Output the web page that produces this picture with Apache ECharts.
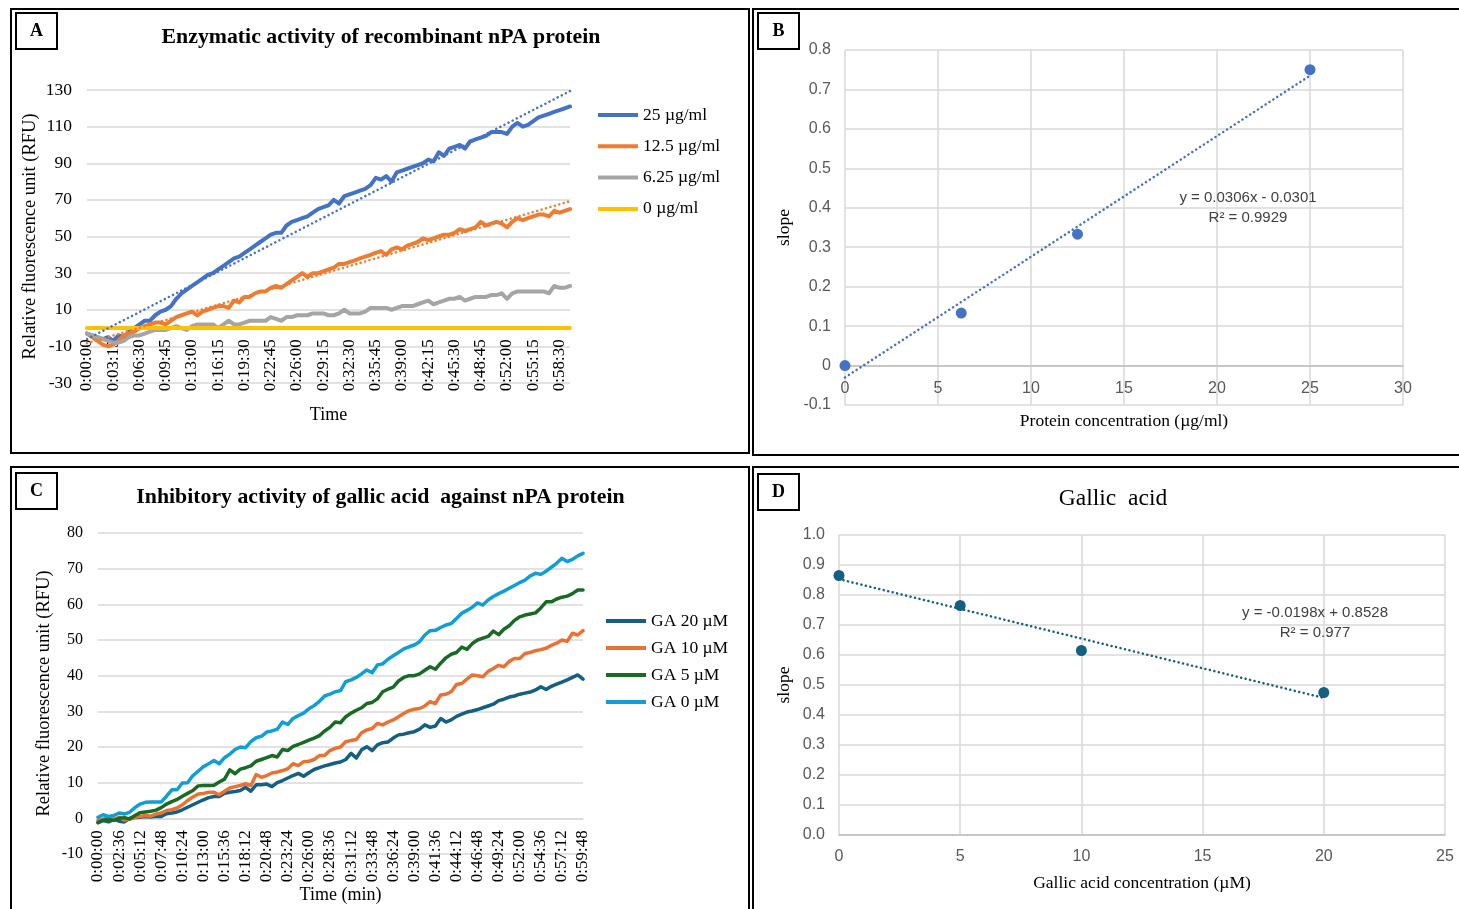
<!DOCTYPE html>
<html>
<head>
<meta charset="utf-8">
<script src="https://cdn.jsdelivr.net/npm/echarts@6/dist/echarts.min.js"></script>
<style>
  html, body { margin: 0; padding: 0; background: #fff; }
  #chart { width: 1459px; height: 909px; }
</style>
</head>
<body>
<div id="chart"></div>
<script>
// Plate-reader time points (one reading every 39 s)
const timeLabels = [
  '0:00:00','0:00:39','0:01:18','0:01:57','0:02:36','0:03:15','0:03:54','0:04:33','0:05:12','0:05:51',
  '0:06:30','0:07:09','0:07:48','0:08:27','0:09:06','0:09:45','0:10:24','0:11:03','0:11:42','0:12:21',
  '0:13:00','0:13:39','0:14:18','0:14:57','0:15:36','0:16:15','0:16:54','0:17:33','0:18:12','0:18:51',
  '0:19:30','0:20:09','0:20:48','0:21:27','0:22:06','0:22:45','0:23:24','0:24:03','0:24:42','0:25:21',
  '0:26:00','0:26:39','0:27:18','0:27:57','0:28:36','0:29:15','0:29:54','0:30:33','0:31:12','0:31:51',
  '0:32:30','0:33:09','0:33:48','0:34:27','0:35:06','0:35:45','0:36:24','0:37:03','0:37:42','0:38:21',
  '0:39:00','0:39:39','0:40:18','0:40:57','0:41:36','0:42:15','0:42:54','0:43:33','0:44:12','0:44:51',
  '0:45:30','0:46:09','0:46:48','0:47:27','0:48:06','0:48:45','0:49:24','0:50:03','0:50:42','0:51:21',
  '0:52:00','0:52:39','0:53:18','0:53:57','0:54:36','0:55:15','0:55:54','0:56:33','0:57:12','0:57:51',
  '0:58:30','0:59:09','0:59:48'
];

// Panel A: RFU of recombinant nPA at each protein concentration
const rfu25 = [
  -3,-4,-5,-6,-5,-7,-4,-5,-2,0, 2,4,4,7,9,10,12,16,19,21,
  23,25,27,29,30,32,34,36,38,39, 41,43,45,47,49,51,52,52,56,58,
  59,60,61,63,65,66,67,70,68,72, 73,74,75,76,78,82,81,83,80,85,
  86,87,88,89,90,92,91,96,94,98, 99,100,98,102,103,104,105,107,107,107,
  106,110,112,110,111,113,115,116,117,118, 119,120,121
];
const rfu12 = [
  -3,-5,-7,-9,-10,-9,-7,-4,-3,-2, 0,1,2,3,3,2,4,6,7,8,
  9,7,9,10,11,12,12,11,15,14, 17,17,19,20,20,22,23,22,24,26,
  28,30,28,30,30,31,32,33,35,35, 36,37,38,39,40,41,42,40,43,44,
  43,45,46,47,49,48,49,50,51,51, 52,54,53,54,55,58,56,57,58,57,
  55,58,60,59,60,61,62,62,61,64, 63,64,65
];
const rfu6 = [
  -3,-4,-5,-6,-7,-8,-8,-7,-5,-4, -4,-3,-2,-1,-1,-1,0,1,0,-1,
  1,2,2,2,2,0,2,4,2,2, 3,4,4,4,4,6,5,4,6,6,
  7,7,7,8,8,8,7,7,8,10, 8,8,8,9,11,11,11,11,10,11,
  12,12,12,13,14,15,13,14,15,16, 16,17,15,16,17,17,17,18,18,19,
  16,19,20,20,20,20,20,20,19,23, 22,22,23
];
const rfu0 = [
  0,0,0,0,0,0,0,0,0,0, 0,0,0,0,0,0,0,0,0,0,
  0,0,0,0,0,0,0,0,0,0, 0,0,0,0,0,0,0,0,0,0,
  0,0,0,0,0,0,0,0,0,0, 0,0,0,0,0,0,0,0,0,0,
  0,0,0,0,0,0,0,0,0,0, 0,0,0,0,0,0,0,0,0,0,
  0,0,0,0,0,0,0,0,0,0, 0,0,0
];

// Panel C: RFU with gallic acid
const ga20 = [
  -1.2,-0.6,-1,-0.3,-0.8,-1,0,0.2,0.3,0.5, 0.4,0.6,0.5,1.3,1.5,1.8,2.4,3.1,3.8,4.5,
  5.2,5.8,6.1,6.1,7,7.3,7.5,7.8,8.7,7.6, 9.4,9.4,9.6,8.9,10,10.6,11.3,12,12.6,11.8,
  12.8,13.7,14.2,14.7,15.1,15.5,15.8,16.5,18.2,16.9, 19.2,20.1,19,20.6,21.2,21.4,22.5,23.4,23.6,24,
  24.3,25,26.2,25.5,25.9,28,27,27.6,28.6,29.2, 29.8,30.1,30.5,31,31.5,32,33,33.4,34,34.3,
  34.8,35.1,35.4,36,36.9,36.1,37,37.6,38.2,38.8, 39.5,40.2,39
];
const ga10 = [
  -0.5,-0.2,0,-0.3,0.3,-0.5,-0.2,0.3,0.5,0.8, 0.6,1.2,1.5,2.2,2.4,2.9,3.8,5,6,6.8,
  7,7.3,7.3,6.6,7.6,8.5,8.9,9.2,9.7,9.2, 12.3,11.5,12,12.7,13,13.4,13.9,15.3,14.8,15.9,
  16,16.5,17.6,17.6,19,19.6,20,21.5,21.8,22.1, 24,24.8,25.2,26.6,26.2,27,27.6,28.5,29.4,30.2,
  30.6,30.8,31.5,32.7,32.2,34.6,34.8,35.5,37.5,37.8, 39,40.2,40,39.7,41.2,42,42.9,42.5,44,44.8,
  44.8,46.2,46.5,47,47.3,47.7,48.5,49.1,50,49.6, 51.9,51.4,52.6
];
const ga5 = [
  -1.2,-0.5,-0.3,-0.6,0,0.2,-0.2,0.8,1.6,1.8, 2,2.3,3,4,4.7,5.3,6.2,7,7.8,9.1,
  9.2,9.2,9.3,10.2,11,13.6,12.5,13.8,14.2,14.7, 16,16.5,17,17.6,17.2,19.3,19,20.2,20.7,21.3,
  21.9,22.5,23.2,24.5,25.5,27,26.8,28.5,29.5,30.3, 31,32.2,32.5,33.5,35.5,36.2,36.8,38.5,39.5,40,
  40,40.5,41.5,42.5,41.8,43.5,45,46,46.5,48, 47.4,49,50,50.5,51,52.5,51.5,53,54,55.5,
  56.5,57,57.3,57.6,59,60.7,60.7,61.5,62,62.3, 63,64,64
];
const ga0 = [
  0.3,1,0.5,0.8,1.5,1.2,1.7,3,4,4.5, 4.6,4.6,4.6,6.2,8,8,9.9,10,12,13.2,
  14.5,15.3,16.2,15.3,17,18,19.3,20,19.8,21.5, 22.6,23,24.2,24.5,25,27,26.3,28,28.8,29.5,
  30.7,31.6,32.8,34.3,34.8,35.5,35.8,38.3,38.8,39.5, 40.5,41.6,40.8,43,43.3,44.6,45.6,46.5,47.5,48.1,
  48.6,49.5,51.4,52.6,52.7,53.5,54.2,54.6,56,57.5, 58.3,59.2,60.4,59.8,61.2,62.2,63,63.7,64.5,65.3,
  66.1,66.8,68,68.7,68.4,69.3,70.4,71.5,72.9,72, 72.6,73.6,74.3
];

// Panel B: initial slope vs protein concentration
const proteinConc = [0, 6.25, 12.5, 25];
const proteinSlope = [0, 0.133, 0.333, 0.75];
const proteinFit = [0.0306, -0.0301];   // slope, intercept
const proteinR2 = '0.9929';

// Panel D: initial slope vs gallic acid concentration
const gallicConc = [0, 5, 10, 20];
const gallicSlope = [0.865, 0.765, 0.615, 0.475];
const gallicFit = [-0.0198, 0.8528];    // slope, intercept
const gallicR2 = '0.977';

const SERIF = "'Liberation Serif', 'Times New Roman', serif";
const SANS = "'Liberation Sans Narrow', 'Liberation Sans', sans-serif";
const GRID = '#d9d9d9';

// least-squares line over the reading index, as a spreadsheet trendline
function trend(vals) {
  const n = vals.length;
  let sx = 0, sy = 0, sxx = 0, sxy = 0;
  vals.forEach((v, i) => { sx += i; sy += v; sxx += i * i; sxy += i * v; });
  const b = (n * sxy - sx * sy) / (n * sxx - sx * sx);
  const a = (sy - b * sx) / n;
  return vals.map((_, i) => +(a + b * i).toFixed(3));
}
function fitSegment(xs, fit) {
  const lo = Math.min(...xs), hi = Math.max(...xs);
  return [[lo, fit[0] * lo + fit[1]], [hi, fit[0] * hi + fit[1]]];
}
function eqText(fit) {
  const sign = fit[1] < 0 ? '- ' : '+ ';
  return 'y = ' + fit[0] + 'x ' + sign + Math.abs(fit[1]);
}
const oneDec = v => (Math.round(v * 10) / 10).toFixed(1);
const trimDec = v => String(Math.round(v * 10) / 10);

const lineSeries = (name, data, color, axis, width) => ({
  name, type: 'line', data, xAxisIndex: axis, yAxisIndex: axis,
  showSymbol: false, symbol: 'none', smooth: false,
  lineStyle: { color, width, join: 'round', cap: 'round' },
  itemStyle: { color }, animation: false, z: 3
});
const trendSeries = (data, color, axis) => ({
  type: 'line', data, xAxisIndex: axis, yAxisIndex: axis,
  showSymbol: false, symbol: 'none', silent: true,
  lineStyle: { color, width: 2.5, type: [0.1, 4.5], cap: 'round' },
  animation: false, z: 5
});

// time axis drawn across the zero line of the value axis (offset = distance from zero to grid bottom)
const catAxis = (grid, interval, offset, name, nameGap) => ({
  type: 'category', gridIndex: grid, data: timeLabels, boundaryGap: false,
  position: 'bottom', offset,
  axisLine: { show: true, onZero: false, lineStyle: { color: GRID, width: 1.5 } },
  axisTick: { show: false },
  axisLabel: { interval, rotate: 90, fontFamily: SERIF, fontSize: 17, color: '#000', margin: 12 },
  splitLine: { show: false },
  name, nameLocation: 'middle', nameGap,
  nameTextStyle: { fontFamily: SERIF, fontSize: 18, color: '#000' }
});

const gridBase = { outerBoundsMode: 'none', containLabel: false };

const option = {
  animation: false,
  backgroundColor: '#fff',
  title: [
    { text: 'Enzymatic activity of recombinant nPA protein', left: 381, top: 26, textAlign: 'center', padding: 0,
      textStyle: { fontFamily: SERIF, fontSize: 21.8, fontWeight: 'bold', color: '#000' } },
    { text: 'Inhibitory activity of gallic acid  against nPA protein', left: 380.5, top: 486, textAlign: 'center', padding: 0,
      textStyle: { fontFamily: SERIF, fontSize: 21.8, fontWeight: 'bold', color: '#000' } },
    { text: 'Gallic  acid', left: 1113, top: 487, textAlign: 'center', padding: 0,
      textStyle: { fontFamily: SERIF, fontSize: 23.5, fontWeight: 'normal', color: '#000' } }
  ],
  legend: [
    { data: ['25 µg/ml', '12.5 µg/ml', '6.25 µg/ml', '0 µg/ml'], padding: 0,
      orient: 'vertical', left: 598, top: 105, itemWidth: 40, itemHeight: 4, icon: 'rect',
      itemGap: 11.3, textStyle: { fontFamily: SERIF, fontSize: 17.5, color: '#000', lineHeight: 20 } },
    { data: ['GA 20 µM', 'GA 10 µM', 'GA 5 µM', 'GA 0 µM'], padding: 0,
      orient: 'vertical', left: 606, top: 611, itemWidth: 40, itemHeight: 4, icon: 'rect',
      itemGap: 7, textStyle: { fontFamily: SERIF, fontSize: 17.5, color: '#000', lineHeight: 20 } }
  ],
  grid: [
    Object.assign({ left: 87, top: 90, width: 483, height: 293 }, gridBase),
    Object.assign({ left: 845, top: 50, width: 558, height: 355 }, gridBase),
    Object.assign({ left: 98, top: 533, width: 485, height: 321 }, gridBase),
    Object.assign({ left: 839, top: 535, width: 606, height: 300 }, gridBase)
  ],
  xAxis: [
    catAxis(0, 4, -55.7, 'Time', 79),
    { type: 'value', gridIndex: 1, min: 0, max: 30, interval: 5,
      position: 'bottom', offset: -39.4,
      axisLine: { show: true, onZero: false, lineStyle: { color: '#bfbfbf', width: 1.5 } },
      axisTick: { show: false },
      axisLabel: { fontFamily: SANS, fontSize: 16, color: '#595959', margin: 15 },
      splitLine: { show: true, lineStyle: { color: GRID, width: 1.5 } },
      name: 'Protein concentration (µg/ml)', nameLocation: 'middle', nameGap: 47,
      nameTextStyle: { fontFamily: SERIF, fontSize: 17.5, color: '#000' } },
    catAxis(2, 3, -35.7, 'Time (min)', 68),
    { type: 'value', gridIndex: 3, min: 0, max: 25, interval: 5,
      axisLine: { show: true, onZero: false, lineStyle: { color: '#bfbfbf', width: 1.5 } },
      axisTick: { show: false },
      axisLabel: { fontFamily: SANS, fontSize: 16, color: '#595959', margin: 14 },
      splitLine: { show: true, lineStyle: { color: GRID, width: 1.5 } },
      name: 'Gallic acid concentration (µM)', nameLocation: 'middle', nameGap: 39,
      nameTextStyle: { fontFamily: SERIF, fontSize: 17.5, color: '#000' } }
  ],
  yAxis: [
    { type: 'value', gridIndex: 0, min: -30, max: 130, interval: 20,
      axisLine: { show: false }, axisTick: { show: false },
      axisLabel: { fontFamily: SERIF, fontSize: 17.5, color: '#000', margin: 15 },
      splitLine: { show: true, lineStyle: { color: GRID, width: 1.5 } },
      name: 'Relative fluorescence unit (RFU)', nameLocation: 'middle', nameGap: 47,
      nameTextStyle: { fontFamily: SERIF, fontSize: 18.5, color: '#000' } },
    { type: 'value', gridIndex: 1, min: -0.1, max: 0.8, interval: 0.1,
      axisLine: { show: false }, axisTick: { show: false },
      axisLabel: { fontFamily: SANS, fontSize: 16, color: '#595959', margin: 14, formatter: trimDec },
      splitLine: { show: true, lineStyle: { color: GRID, width: 1.5 } },
      name: 'slope', nameLocation: 'middle', nameGap: 52,
      nameTextStyle: { fontFamily: SERIF, fontSize: 17.5, color: '#000' } },
    { type: 'value', gridIndex: 2, min: -10, max: 80, interval: 10,
      axisLine: { show: false }, axisTick: { show: false },
      axisLabel: { fontFamily: SERIF, fontSize: 16, color: '#000', margin: 15 },
      splitLine: { show: true, lineStyle: { color: GRID, width: 1.5 } },
      name: 'Relative fluorescence unit (RFU)', nameLocation: 'middle', nameGap: 44,
      nameTextStyle: { fontFamily: SERIF, fontSize: 18.5, color: '#000' } },
    { type: 'value', gridIndex: 3, min: 0, max: 1, interval: 0.1,
      axisLine: { show: false }, axisTick: { show: false },
      axisLabel: { fontFamily: SANS, fontSize: 16, color: '#595959', margin: 14, formatter: oneDec },
      splitLine: { show: true, lineStyle: { color: GRID, width: 1.5 } },
      name: 'slope', nameLocation: 'middle', nameGap: 46,
      nameTextStyle: { fontFamily: SERIF, fontSize: 17.5, color: '#000' } }
  ],
  series: [
    lineSeries('25 µg/ml', rfu25, '#4472C4', 0, 4),
    lineSeries('12.5 µg/ml', rfu12, '#ED7D31', 0, 4),
    lineSeries('6.25 µg/ml', rfu6, '#A5A5A5', 0, 4),
    lineSeries('0 µg/ml', rfu0, '#FFC000', 0, 4),
    trendSeries(trend(rfu25), '#4472C4', 0),
    trendSeries(trend(rfu12), '#ED7D31', 0),

    { type: 'scatter', xAxisIndex: 1, yAxisIndex: 1, symbolSize: 11,
      data: proteinConc.map((c, i) => [c, proteinSlope[i]]),
      itemStyle: { color: '#4472C4', opacity: 1 }, z: 4 },
    trendSeries(fitSegment(proteinConc, proteinFit), '#4472C4', 1),

    lineSeries('GA 20 µM', ga20, '#156082', 2, 3.5),
    lineSeries('GA 10 µM', ga10, '#E97132', 2, 3.5),
    lineSeries('GA 5 µM', ga5, '#196B24', 2, 3.5),
    lineSeries('GA 0 µM', ga0, '#0F9ED5', 2, 3.5),

    { type: 'scatter', xAxisIndex: 3, yAxisIndex: 3, symbolSize: 11,
      data: gallicConc.map((c, i) => [c, gallicSlope[i]]),
      itemStyle: { color: '#156082', opacity: 1 }, z: 4 },
    trendSeries(fitSegment(gallicConc, gallicFit), '#156082', 3)
  ],
  graphic: [
    // panel frames
    { type: 'rect', shape: { x: 11, y: 9, width: 738, height: 444 }, style: { fill: 'none', stroke: '#000', lineWidth: 2 }, z: 100 },
    { type: 'rect', shape: { x: 753, y: 9, width: 720, height: 446 }, style: { fill: 'none', stroke: '#000', lineWidth: 2 }, z: 100 },
    { type: 'rect', shape: { x: 11, y: 467, width: 738, height: 460 }, style: { fill: 'none', stroke: '#000', lineWidth: 2 }, z: 100 },
    { type: 'rect', shape: { x: 753, y: 467, width: 720, height: 460 }, style: { fill: 'none', stroke: '#000', lineWidth: 2 }, z: 100 },
    // panel letters
    { type: 'rect', shape: { x: 16, y: 13, width: 41, height: 36 }, style: { fill: '#fff', stroke: '#000', lineWidth: 2 }, z: 100 },
    { type: 'text', x: 36.5, y: 31, style: { text: 'A', font: "bold 18px " + SERIF, fill: '#000', align: 'center', verticalAlign: 'middle' }, z: 101 },
    { type: 'rect', shape: { x: 758, y: 13, width: 41, height: 36 }, style: { fill: '#fff', stroke: '#000', lineWidth: 2 }, z: 100 },
    { type: 'text', x: 778.5, y: 31, style: { text: 'B', font: "bold 18px " + SERIF, fill: '#000', align: 'center', verticalAlign: 'middle' }, z: 101 },
    { type: 'rect', shape: { x: 16, y: 473, width: 41, height: 36 }, style: { fill: '#fff', stroke: '#000', lineWidth: 2 }, z: 100 },
    { type: 'text', x: 36.5, y: 491, style: { text: 'C', font: "bold 18px " + SERIF, fill: '#000', align: 'center', verticalAlign: 'middle' }, z: 101 },
    { type: 'rect', shape: { x: 758, y: 474, width: 41, height: 36 }, style: { fill: '#fff', stroke: '#000', lineWidth: 2 }, z: 100 },
    { type: 'text', x: 778.5, y: 492, style: { text: 'D', font: "bold 18px " + SERIF, fill: '#000', align: 'center', verticalAlign: 'middle' }, z: 101 },
    // trendline equations
    { type: 'text', x: 1248, y: 198, style: { text: eqText(proteinFit), font: "15px " + SANS, fill: '#404040', align: 'center', verticalAlign: 'middle' }, z: 50 },
    { type: 'text', x: 1248, y: 218, style: { text: 'R² = ' + proteinR2, font: "15px " + SANS, fill: '#404040', align: 'center', verticalAlign: 'middle' }, z: 50 },
    { type: 'text', x: 1315, y: 613, style: { text: eqText(gallicFit), font: "15px " + SANS, fill: '#404040', align: 'center', verticalAlign: 'middle' }, z: 50 },
    { type: 'text', x: 1315, y: 633, style: { text: 'R² = ' + gallicR2, font: "15px " + SANS, fill: '#404040', align: 'center', verticalAlign: 'middle' }, z: 50 }
  ]
};

const chart = echarts.init(document.getElementById('chart'), null, { renderer: 'canvas' });
chart.setOption(option);
</script>
</body>
</html>
